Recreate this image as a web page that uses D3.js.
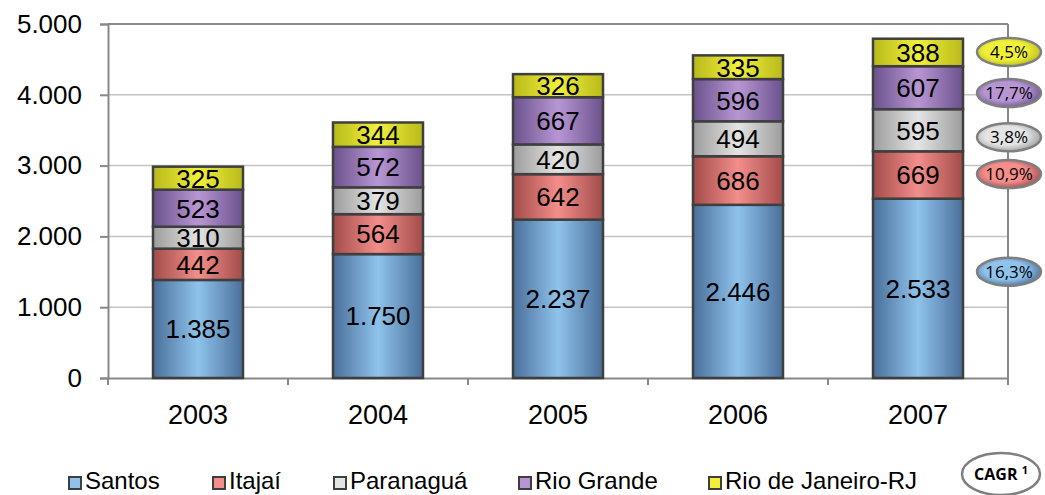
<!DOCTYPE html>
<html>
<head>
<meta charset="utf-8">
<script src="https://cdn.jsdelivr.net/npm/d3@7"></script>
<style>
  body { margin: 0; background: #fff; }
  text { font-family: "Liberation Sans", Arial, sans-serif; }
</style>
</head>
<body>
<script>
var width = 1045;
var height = 495;

// Data
var years = ["2003", "2004", "2005", "2006", "2007"];
var series = ["Santos", "Itajaí", "Paranaguá", "Rio Grande", "Rio de Janeiro-RJ"];
var santos = [1385, 1750, 2237, 2446, 2533];
var itajai = [442, 564, 642, 686, 669];
var paranagua = [310, 379, 420, 494, 595];
var rioGrande = [523, 572, 667, 596, 607];
var rioJaneiro = [325, 344, 326, 335, 388];
var cagr = ["16,3%", "10,9%", "3,8%", "17,7%", "4,5%"];
// where each CAGR bubble sits, in axis units
var cagrAt = [1500, 2880, 3400, 4025, 4605];
var yTicks = [0, 1000, 2000, 3000, 4000, 5000];

var values = [santos, itajai, paranagua, rioGrande, rioJaneiro];

// colours: [edge, centre]
var colors = [
    ["#4a6f9a", "#8fc3ec"],
    ["#a34c4a", "#f38e8b"],
    ["#9c9c9c", "#e4e4e4"],
    ["#6a528c", "#b896d4"],
    ["#b9b91c", "#f0f03a"]
];

var margin = {left: 108, right: 37, top: 24, bottom: 117};
var x0 = margin.left, x1 = width - margin.right;
var y0 = height - margin.bottom, y1 = margin.top;

var x = d3.scaleBand().domain(years).range([x0, x1]).paddingInner(0.5).paddingOuter(0.25);
var y = d3.scaleLinear().domain([0, 5000]).range([y0, y1]);

var fmt = function(v) { return d3.format(",")(v).replace(/,/g, "."); };

var svg = d3.select("body").append("svg")
    .attr("width", width)
    .attr("height", height);

var defs = svg.append("defs");
colors.forEach(function(c, i) {
    var lg = defs.append("linearGradient").attr("id", "bar" + i)
        .attr("x1", "0%").attr("x2", "100%").attr("y1", "0%").attr("y2", "0%");
    lg.append("stop").attr("offset", "0%").attr("stop-color", c[0]);
    lg.append("stop").attr("offset", "50%").attr("stop-color", c[1]);
    lg.append("stop").attr("offset", "100%").attr("stop-color", c[0]);
    var rg = defs.append("radialGradient").attr("id", "oval" + i)
        .attr("cx", "45%").attr("cy", "45%").attr("r", "60%");
    rg.append("stop").attr("offset", "0%").attr("stop-color", c[1]);
    rg.append("stop").attr("offset", "55%").attr("stop-color", c[1]);
    rg.append("stop").attr("offset", "100%").attr("stop-color", c[0]);
});

// gridlines
svg.append("g").selectAll("line")
    .data(yTicks.filter(function(t) { return t > 0 && t < 5000; }))
    .enter().append("line")
    .attr("x1", x0).attr("x2", x1)
    .attr("y1", function(d) { return y(d); })
    .attr("y2", function(d) { return y(d); })
    .attr("stroke", "#c4c4c4")
    .attr("stroke-width", 1.5);

// plot frame top and right
svg.append("line").attr("x1", x0).attr("x2", x1).attr("y1", y(5000)).attr("y2", y(5000))
    .attr("stroke", "#888").attr("stroke-width", 2);
svg.append("line").attr("x1", x1).attr("x2", x1).attr("y1", y(5000)).attr("y2", y0 + 7)
    .attr("stroke", "#888").attr("stroke-width", 2);

// axes
var yAxis = svg.append("g")
    .attr("transform", "translate(" + x0 + ",0)")
    .call(d3.axisLeft(y).tickValues(yTicks).tickSize(8).tickPadding(18).tickFormat(fmt));
yAxis.select(".domain").attr("stroke", "#888").attr("stroke-width", 2);
yAxis.selectAll(".tick line").attr("stroke", "#888").attr("stroke-width", 2);
yAxis.selectAll(".tick text").attr("font-size", "26px").attr("fill", "#000")
    .attr("font-family", "Liberation Sans, Arial, sans-serif");

var xAxis = svg.append("g")
    .attr("transform", "translate(0," + y0 + ")")
    .call(d3.axisBottom(x).tickSize(0).tickPadding(27));
xAxis.select(".domain").attr("stroke", "#888").attr("stroke-width", 2);
xAxis.selectAll(".tick text").attr("font-size", "27px").attr("fill", "#000")
    .attr("font-family", "Liberation Sans, Arial, sans-serif");

// category separator ticks
var step = x.step();
svg.append("g").selectAll("line")
    .data(years)
    .enter().append("line")
    .attr("x1", function(d) { return x(d) - (step - x.bandwidth()) / 2; })
    .attr("x2", function(d) { return x(d) - (step - x.bandwidth()) / 2; })
    .attr("y1", y0).attr("y2", y0 + 7)
    .attr("stroke", "#888").attr("stroke-width", 2);

// stacked bars
var rows = years.map(function(yr, j) {
    var r = {year: yr};
    series.forEach(function(s, i) { r[s] = values[i][j]; });
    return r;
});
var stacked = d3.stack().keys(series)(rows);

var layers = svg.append("g").selectAll("g")
    .data(stacked)
    .enter().append("g");

layers.selectAll("rect")
    .data(function(d) { return d.map(function(p) { return {p: p, i: d.index}; }); })
    .enter().append("rect")
    .attr("x", function(d) { return x(d.p.data.year); })
    .attr("width", x.bandwidth())
    .attr("y", function(d) { return y(d.p[1]); })
    .attr("height", function(d) { return y(d.p[0]) - y(d.p[1]); })
    .attr("fill", function(d) { return "url(#bar" + d.i + ")"; })
    .attr("stroke", "#3f3f3f")
    .attr("stroke-width", 2.5);

layers.selectAll("text")
    .data(function(d) { return d; })
    .enter().append("text")
    .attr("x", function(d) { return x(d.data.year) + x.bandwidth() / 2; })
    .attr("y", function(d) { return (y(d[0]) + y(d[1])) / 2; })
    .attr("dy", "0.36em")
    .attr("text-anchor", "middle")
    .attr("font-size", "26px")
    .attr("fill", "#000")
    .text(function(d) { return fmt(d[1] - d[0]); });

// CAGR bubbles
var cg = svg.append("g").selectAll("g")
    .data(cagr)
    .enter().append("g")
    .attr("transform", function(d, i) { return "translate(" + (x1 + 1) + "," + y(cagrAt[i]) + ")"; });
cg.append("ellipse")
    .attr("rx", 32).attr("ry", 14)
    .attr("fill", function(d, i) { return "url(#oval" + i + ")"; })
    .attr("stroke", "#7f7f7f")
    .attr("stroke-width", 2.5);
cg.append("text")
    .attr("text-anchor", "middle")
    .attr("dy", "0.36em")
    .attr("font-size", "17px")
    .style("font-family", "'Open Sans', sans-serif")
    .attr("fill", "#000")
    .text(function(d) { return d; });

// legend
var legendX = [68, 212, 333, 518, 708];
var legend = svg.append("g").selectAll("g")
    .data(series)
    .enter().append("g")
    .attr("transform", function(d, i) { return "translate(" + legendX[i] + ",489)"; });
legend.append("rect")
    .attr("x", 1).attr("y", -12)
    .attr("width", 12).attr("height", 12)
    .attr("fill", function(d, i) { return colors[i][1]; })
    .attr("stroke", "#3f3f3f")
    .attr("stroke-width", 2);
legend.append("text")
    .attr("x", 17).attr("y", 0)
    .attr("font-size", "24px")
    .attr("fill", "#000")
    .text(function(d) { return d; });

var cagrKey = svg.append("g").attr("transform", "translate(1001,474)");
cagrKey.append("ellipse").attr("rx", 39).attr("ry", 21)
    .attr("fill", "#fff").attr("stroke", "#7f7f7f").attr("stroke-width", 2.5);
var ck = cagrKey.append("text").attr("text-anchor", "middle").attr("dy", "0.36em")
    .attr("font-size", "16px").attr("font-weight", "bold")
    .style("font-family", "'Open Sans', sans-serif");
ck.append("tspan").text("CAGR ");
ck.append("tspan").attr("font-size", "11px").attr("dy", "-0.5em").text("1");
</script>
</body>
</html>
